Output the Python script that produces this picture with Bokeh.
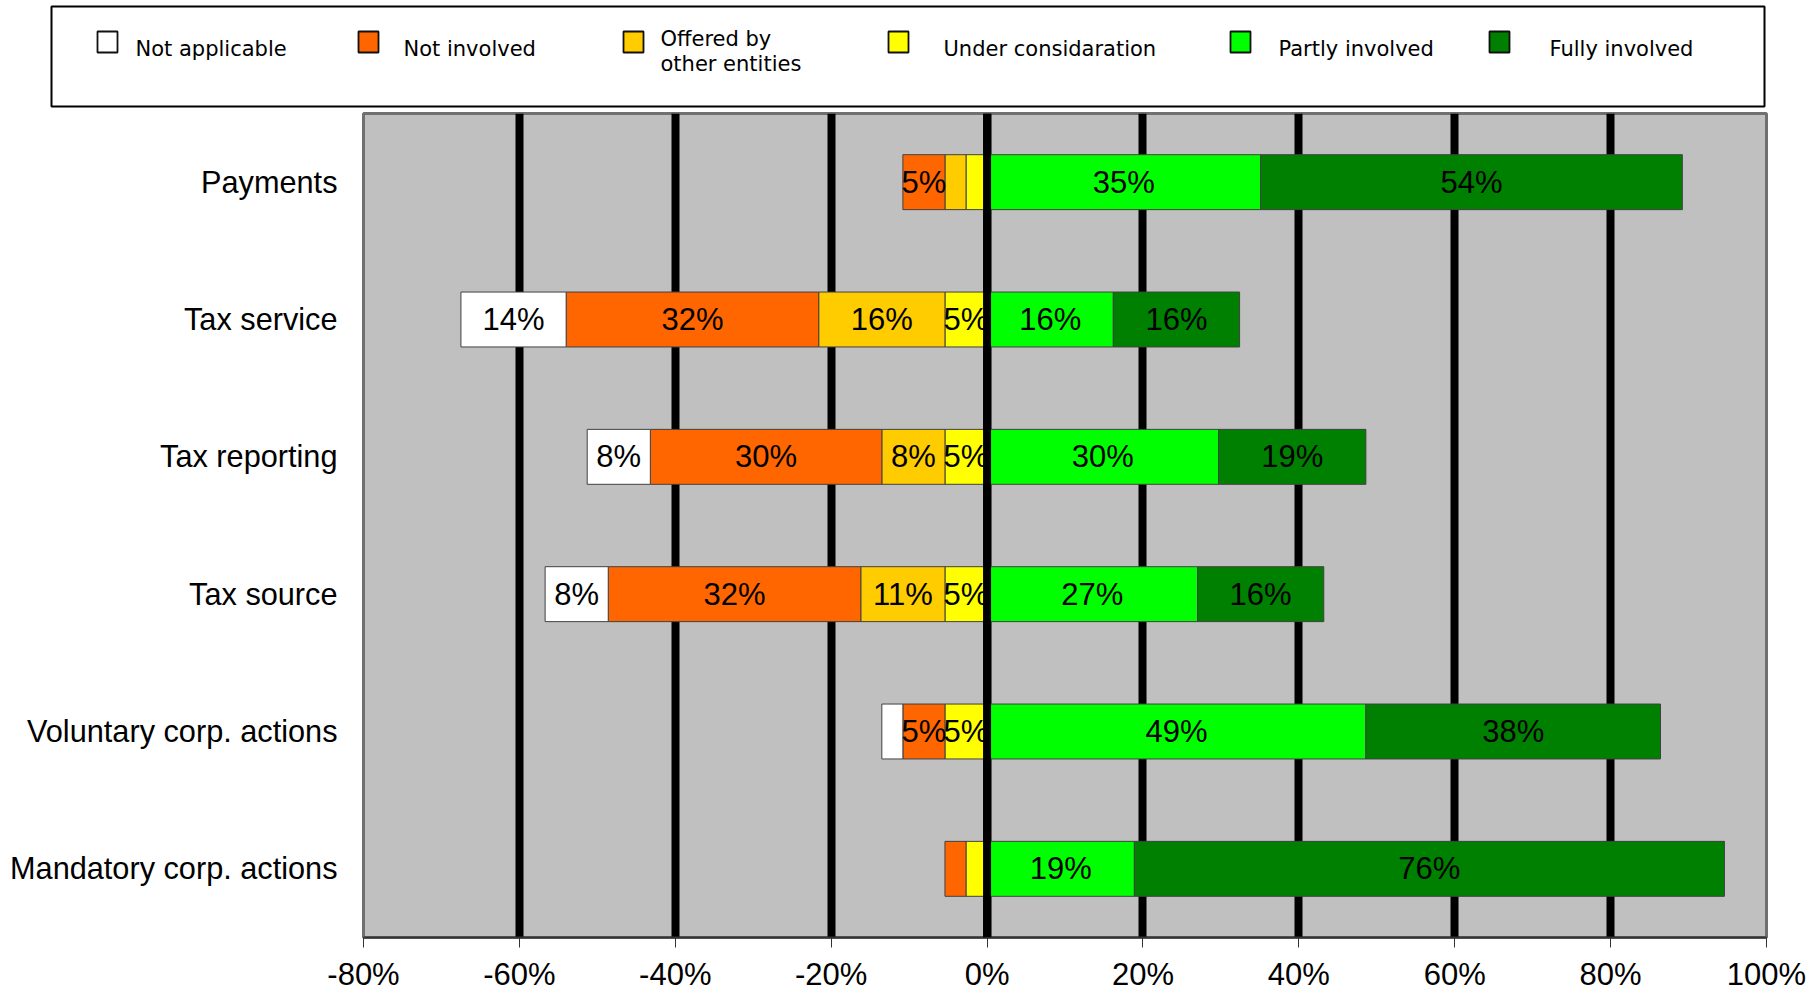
import numpy as np
from bokeh.plotting import figure
from bokeh.models import ColumnDataSource, FactorRange, Range1d, Span, FixedTicker
from bokeh.embed import file_html
from bokeh.resources import INLINE
from bokeh.core.properties import value

# ---------------- data ----------------
categories = ["Payments", "Tax service", "Tax reporting", "Tax source",
              "Voluntary corp. actions", "Mandatory corp. actions"]
not_applicable = [0.0, 13.5, 8.1, 8.1, 2.7, 0.0]
not_involved = [5.4, 32.4, 29.7, 32.4, 5.4, 2.7]
offered_other = [2.7, 16.2, 8.1, 10.8, 0.0, 0.0]
under_consideration = [2.7, 5.4, 5.4, 5.4, 5.4, 2.7]
partly_involved = [35.1, 16.2, 29.7, 27.0, 48.6, 18.9]
fully_involved = [54.1, 16.2, 18.9, 16.2, 37.8, 75.7]

series_names = ["Not applicable", "Not involved", "Offered by\nother entities",
                "Under considaration", "Partly involved", "Fully involved"]
series_colors = ["#FFFFFF", "#FF6600", "#FFCC00", "#FFFF00", "#00FF00", "#008000"]

x_ticks = [-80, -60, -40, -20, 0, 20, 40, 60, 80, 100]
x_tick_labels = ["-80%", "-60%", "-40%", "-20%", "0%", "20%", "40%", "60%", "80%", "100%"]

# ---------------- segments ----------------
neg_series = [(under_consideration, series_colors[3]), (offered_other, series_colors[2]),
              (not_involved, series_colors[1]), (not_applicable, series_colors[0])]
pos_series = [(partly_involved, series_colors[4]), (fully_involved, series_colors[5])]

seg = dict(y=[], left=[], right=[], color=[])
lab = dict(y=[], x=[], text=[])
for i, cat in enumerate(categories):
    cum = 0.0
    for vals, col in neg_series:
        v = vals[i]
        if v > 0:
            seg["y"].append(cat); seg["left"].append(cum - v); seg["right"].append(cum); seg["color"].append(col)
            if v >= 4:
                lab["y"].append(cat); lab["x"].append(cum - v / 2); lab["text"].append(f"{round(v)}%")
        cum -= v
    cum = 0.0
    for vals, col in pos_series:
        v = vals[i]
        if v > 0:
            seg["y"].append(cat); seg["left"].append(cum); seg["right"].append(cum + v); seg["color"].append(col)
            if v >= 4:
                lab["y"].append(cat); lab["x"].append(cum + v / 2); lab["text"].append(f"{round(v)}%")
        cum += v

seg_src = ColumnDataSource(seg)
lab_src = ColumnDataSource(lab)

# ---------------- main figure ----------------
p = figure(frame_width=1403, frame_height=824,
           y_range=FactorRange(factors=list(reversed(categories))),
           x_range=Range1d(-80, 100),
           toolbar_location=None, output_backend="svg",
           min_border_left=363, min_border_right=44, min_border_top=3, min_border_bottom=40)
p.background_fill_color = "#C0C0C0"
p.border_fill_color = "white"
p.outline_line_color = "#707070"
p.outline_line_width = 3

p.xgrid.ticker = FixedTicker(ticks=x_ticks)
p.xgrid.grid_line_color = "black"
p.xgrid.grid_line_width = 8
p.ygrid.grid_line_color = None

p.hbar(y="y", left="left", right="right", height=0.4, fill_color="color",
       line_color="#404040", line_width=1, source=seg_src)

p.add_layout(Span(location=0, dimension="height", line_color="black", line_width=8))

p.text(x="x", y="y", text="text", source=lab_src, text_align="center", text_baseline="middle",
       text_font=value("Liberation Sans"), text_font_size="31px", text_color="black")

xa = p.xaxis[0]
xa.ticker = FixedTicker(ticks=x_ticks)
xa.major_label_overrides = {t: l for t, l in zip(x_ticks, x_tick_labels)}
xa.minor_tick_line_color = None
xa.major_tick_in = 0
xa.major_tick_out = 10
xa.major_tick_line_color = "#333333"
xa.axis_line_color = "#333333"
xa.axis_line_width = 2
xa.major_label_text_font = "Liberation Sans"
xa.major_label_text_font_size = "31px"
xa.major_label_text_color = "black"
xa.major_label_standoff = 9

ya = p.yaxis[0]
ya.major_tick_in = 0
ya.major_tick_out = 0
ya.minor_tick_line_color = None
ya.axis_line_color = None
ya.major_label_text_font = "Liberation Sans"
ya.major_label_text_font_size = "30.7px"
ya.major_label_text_color = "black"
ya.major_label_standoff = 26

# ---------------- legend figure ----------------
lg = figure(width=1810, height=110, x_range=Range1d(0, 1810), y_range=Range1d(110, 0),
            toolbar_location=None, output_backend="svg", min_border=0)
lg.axis.visible = False
lg.grid.visible = False
lg.outline_line_color = None
lg.background_fill_color = "white"
lg.border_fill_color = "white"

lg.quad(left=[51], right=[1764], top=[6], bottom=[106], fill_color=None,
        line_color="black", line_width=2)

sq_left = [97, 358, 623, 888, 1230, 1489]
txt_x = [135, 403, 660, 943, 1278, 1549]
lg.quad(left=sq_left, right=[s + 20 for s in sq_left], top=[31] * 6, bottom=[52] * 6,
        fill_color=series_colors, line_color="#101010", line_width=1.8)

lt_x, lt_y, lt_t = [], [], []
for name, x in zip(series_names, txt_x):
    lines = name.split("\n")
    if len(lines) == 1:
        lt_x.append(x); lt_y.append(48); lt_t.append(lines[0])
    else:
        for k, ln in enumerate(lines):
            lt_x.append(x); lt_y.append(38 + 25 * k); lt_t.append(ln)
lg.text(x=lt_x, y=lt_y, text=lt_t, text_align="left", text_baseline="middle",
        text_font=value("DejaVu Sans"), text_font_size="21px", text_color="black")

open("out.html", "w").write(file_html([lg, p], INLINE))
